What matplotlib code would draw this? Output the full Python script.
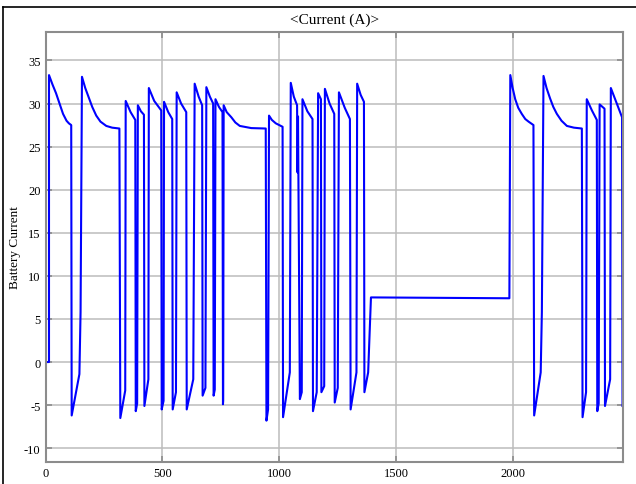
import matplotlib
matplotlib.use('Agg')
import matplotlib.pyplot as plt
from matplotlib.lines import Line2D

plt.rcParams['font.family'] = ['Liberation Serif', 'DejaVu Serif']
plt.rcParams['axes.unicode_minus'] = False

# battery current trace (time, amps)
time_s = [0, 15, 15, 30, 45, 60, 75, 90, 100, 110, 112, 145, 150, 156, 170,
          188, 200, 217, 235, 260, 285, 316,
          320, 341, 343, 364, 384, 386, 392, 395, 408, 421, 423, 440, 442, 465,
          495, 497, 505, 507, 525, 542, 544, 558, 561, 580, 602, 604, 632, 638,
          655, 670, 672, 684, 688, 703, 717, 719, 724, 727, 742, 757, 759, 760,
          762, 775, 795, 812, 831, 880, 942, 945, 952, 956, 968, 985, 1014,
          1016, 1045, 1049,
          1062, 1076, 1078, 1080, 1088, 1096, 1099, 1120, 1142, 1144, 1160,
          1166, 1178, 1180, 1192, 1195, 1215, 1235, 1237, 1250, 1255, 1280,
          1302, 1305, 1330, 1333, 1348, 1362, 1364, 1380, 1392, 1700, 1984,
          1988, 1998, 2009, 2022, 2037, 2052, 2066, 2087, 2090, 2118, 2123,
          2130, 2143, 2158, 2172, 2187, 2207, 2230, 2260, 2294, 2297, 2312,
          2315, 2337, 2358, 2360, 2366, 2370, 2391,
          2393, 2415, 2418, 2445, 2466, 2468]
current_a = [0, 0, 33.3, 32.2, 31.2, 30.0, 28.8, 28.0, 27.7, 27.5, -6.2, -1.4,
             5.8, 33.1, 31.8, 30.5, 29.6, 28.6, 27.9, 27.4, 27.2, 27.1,
             -6.5, -3.3, 30.3, 29.0, 28.1, -5.7, -4.8, 29.8,
             29.1, 28.7, -5.1, -2.0, 31.8, 30.3, 29.2, -5.5, -4.5, 30.2, 29.0,
             28.2, -5.5, -3.5, 31.3, 30.0, 29.0, -5.5, -2.0, 32.3, 30.8, 29.8,
             -3.9, -3.0, 31.9, 30.8, 30.0, -3.9, -3.2, 30.5, 29.6, 29.0, -4.9,
             -4.5, 29.8, 29.0, 28.4, 27.8, 27.4, 27.15, 27.1, -6.8, -5.5, 28.6,
             28.1, 27.7, 27.3,
             -6.4, -1.2, 32.4, 30.8, 29.8, 22.0, 28.5, -4.3, -3.5, 30.5, 29.1,
             28.2, -5.7, -3.5, 31.2, 30.5, -3.5, -2.8, 31.7, 30.0, 28.8, -4.7,
             -3.0, 31.3, 29.5, 28.2, -5.5, -1.2, 32.3, 31.0, 30.2, -3.5, -1.2,
             7.5, 7.45, 7.4, 33.3, 31.8, 30.5, 29.5, 28.8, 28.2, 27.9, 27.5,
             -6.2, -1.2, 5.8, 33.2, 31.8, 30.6, 29.6, 28.8, 28.0, 27.4, 27.2,
             27.1, -6.4, -3.5, 30.5, 29.2, 28.1, -5.7, -4.8,
             29.9, 29.4, -5.1, -2.0, 31.8, 29.9, 28.4, -5.1]

x_ticks = [0, 500, 1000, 1500, 2000]
y_ticks = [-10, -5, 0, 5, 10, 15, 20, 25, 30, 35]

fig = plt.figure(figsize=(6.36, 4.85), dpi=100)
ax = fig.add_axes([45.5/636, 1 - 463/485, (623 - 45.5)/636, (463 - 33)/485])

ax.plot(time_s, current_a, color='#0000ff', linewidth=1.5)

ax.set_xlim(0, 2470)
ax.set_ylim(-11.6, 38.3)
ax.set_xticks(x_ticks)
ax.set_yticks(y_ticks)
ax.grid(True, color='#bcbcbc', linewidth=1.1)
ax.tick_params(direction='in', top=True, right=True, length=4, width=1.2,
               color='#8c8c8c', labelsize=9, pad=3.5, labelcolor='black')
for s in ax.spines.values():
    s.set_color('#8c8c8c')
    s.set_linewidth(1.5)

fig.text(0.5256, 1 - 20/485, '<Current (A)>', ha='center', va='center', fontsize=11)
fig.text(15/636, 1 - 248/485, 'Battery Current', rotation=90, ha='center',
         va='center', fontsize=9.5)

# frame of the scope window (top and left edges only are in view)
fig.add_artist(Line2D([3/636, 1], [1 - 8/485, 1 - 8/485], color='black',
                      linewidth=1.2, transform=fig.transFigure))
fig.add_artist(Line2D([3/636, 3/636], [0, 1 - 8/485], color='black',
                      linewidth=1.2, transform=fig.transFigure))

fig.savefig('out.png', dpi=100)
